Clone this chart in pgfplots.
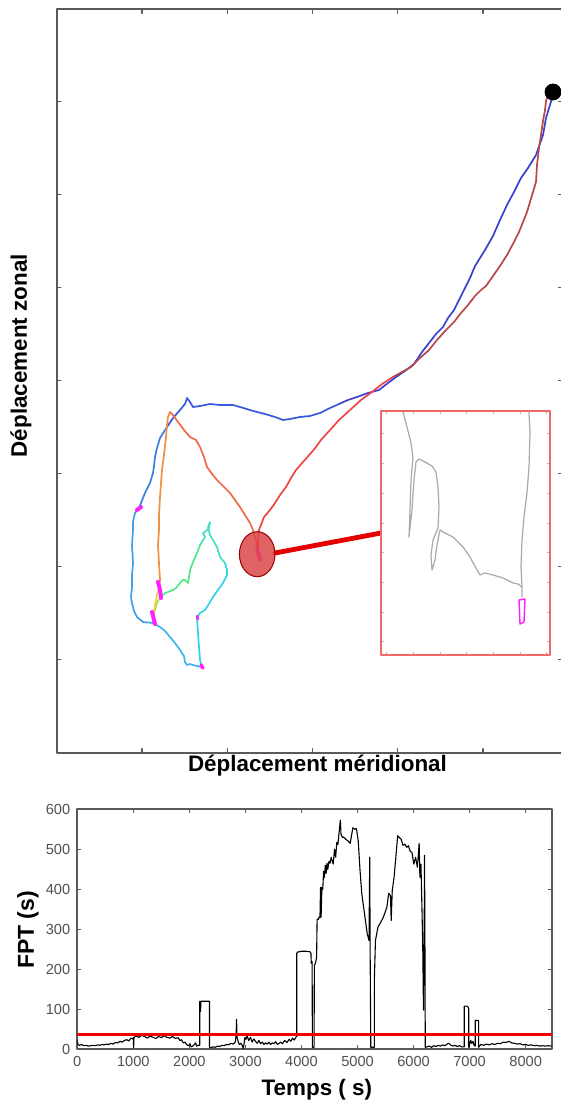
\documentclass[border=0pt]{standalone}
\usepackage{fontspec}
\setmainfont{Liberation Sans}
\usepackage{pgfplots}
\pgfplotsset{compat=1.18}
\definecolor{axgray}{HTML}{5A5A5A}
\definecolor{ticklab}{HTML}{505050}
\definecolor{insetred}{HTML}{F06868}
\definecolor{insetgray}{HTML}{A3ABAB}
\definecolor{magen}{HTML}{FF20FF}
\definecolor{ellfill}{HTML}{DC4646}
\definecolor{c1}{HTML}{3A40D0}
\definecolor{c2}{HTML}{3858E0}
\definecolor{c3}{HTML}{3A80E0}
\definecolor{c4}{HTML}{40A0E8}
\definecolor{c5}{HTML}{40B4F0}
\definecolor{c6}{HTML}{30D4E8}
\definecolor{c7}{HTML}{40E0C0}
\definecolor{c8}{HTML}{50E888}
\definecolor{c9}{HTML}{B0E050}
\definecolor{c10}{HTML}{E8D040}
\definecolor{c11}{HTML}{F09040}
\definecolor{c12}{HTML}{F06A48}
\definecolor{c13}{HTML}{EE4444}
\definecolor{c14}{HTML}{B84848}
\begin{document}
\begin{tikzpicture}[x=1pt,y=1pt]
\useasboundingbox (0,0) rectangle (280.5,554);
% ---------------- top panel ----------------
\begin{axis}[at={(154.8pt,363.5pt)}, anchor=center, scale only axis,
  width=252.9pt, height=371.7pt,
  xmin=56.7, xmax=562.5, ymin=9.3, ymax=752.7, y dir=reverse,
  xtick={142,227.25,312.5,397.75,483},
  ytick={101.7,194.7,287.7,380.7,473.7,566.7,659.7},
  xticklabels={}, yticklabels={},
  tick align=inside, major tick length=2pt,
  tick style={color=axgray, line width=0.7pt},
  axis line style={color=axgray, line width=1pt},
  xlabel={Déplacement méridional}, ylabel={Déplacement zonal},
  every axis x label/.style={at={(axis description cs:0.5156,-0.018)}, anchor=center, font=\fontsize{11.2}{13}\selectfont\bfseries},
  every axis y label/.style={at={(axis description cs:-0.0706,0.534)}, rotate=90, anchor=center, font=\fontsize{11.2}{13}\selectfont\bfseries},
  line join=round, line cap=round]
\addplot[c1, line width=0.85pt] coordinates {(553,95) (550,105) (546,118) (543,135) (536,155) (528,168) (521,178) (514,192) (507,205) (500,220) (493,236) (485,250) (475,266) (470,278) (464,290) (459,300) (454,310) (448,318) (443,327) (436,334) (429,343) (422,352) (414,364) (405,371) (396,377) (388,383) (379,390) (368,393) (357,397) (348,400) (339,404)};
\addplot[c2, line width=0.85pt] coordinates {(339,404) (330,408) (320,413) (310,416) (300,417) (290,419) (283,420) (275,417) (265,414) (257,412) (250,410) (240,407) (233,405) (220,405) (210,404) (200,406) (193,407) (190,402) (187,398) (185,404) (180,410) (173,418) (167,427)};
\addplot[c3, line width=0.85pt] coordinates {(167,427) (160,438) (157,448) (155,457) (154,466) (153,473) (150,483) (145,493) (139,508)};
\addplot[c4, line width=0.85pt] coordinates {(139,508) (135,513) (133,522) (133,530) (132,545) (133,563) (132,575) (132,587) (131,597) (132,603) (134,611) (137,617) (143,622) (153,623)};
\addplot[c5, line width=0.85pt] coordinates {(153,623) (160,627) (165,631) (170,637) (175,643) (180,650) (184,656) (185,662) (187,665) (190,664) (193,665) (197,666) (202,667)};
\addplot[c6, line width=0.85pt] coordinates {(202,667) (200,660) (199,647) (198,633) (197,618) (200,613) (205,610) (207,607) (213,597) (218,590) (223,583) (227,575) (227,570) (225,563)};
\addplot[c7, line width=0.85pt] coordinates {(225,563) (220,557) (217,547) (213,540) (210,535) (208,527) (210,522) (209,528) (206,531) (203,533) (205,537) (200,545)};
\addplot[c8, line width=0.85pt] coordinates {(200,545) (197,553) (193,562) (190,570) (189,577) (188,583) (185,580) (183,580) (180,583) (176,588) (173,590) (168,592) (165,593) (161,596)};
\addplot[c9, line width=0.85pt] coordinates {(161,596) (157,603) (155,610) (153,617)};
\addplot[c10, line width=0.85pt] coordinates {(153,617) (155,605) (157,595) (159,588)};
\addplot[c11, line width=0.85pt] coordinates {(159,588) (160,580) (159,563) (158,545) (159,530) (159,515) (160,497) (161,483) (162,470) (164,455) (166,437) (167,425) (168,417) (170,412)};
\addplot[c12, line width=0.85pt] coordinates {(170,412) (173,415) (178,422) (184,430) (190,437) (196,440) (200,447) (204,457) (207,467) (212,474) (217,480) (224,487) (230,493) (235,500) (240,507) (245,515) (250,523) (253,530) (255,537) (257,545) (258,550) (260,557)};
\addplot[c13, line width=0.85pt] coordinates {(258,552) (258,540) (259,530) (264,517) (270,510) (275,503) (280,495) (286,487) (291,478) (296,470) (303,462) (311,453) (316,447) (321,440) (330,430) (339,420) (350,410) (361,400) (372,392) (382,384) (393,377)};
\addplot[c14, line width=0.85pt] coordinates {(393,377) (402,372) (411,367) (420,358) (429,350) (437,340) (446,330) (454,322) (461,313) (468,305) (475,296) (481,290) (486,286) (493,276) (500,266) (507,255) (514,242) (519,232) (523,222) (527,212) (530,202) (533,192) (536,182) (537,165) (539,148) (541,135) (543,121) (545,110) (546,101) (548,95)};
% ARS markers
\addplot[magen, line width=2pt] coordinates {(137,510) (141,507)};
\addplot[magen, line width=2pt] coordinates {(158,582) (160,590) (161,598)};
\addplot[magen, line width=2pt] coordinates {(152,612) (154,620) (155,624)};
\addplot[magen, line width=1.8pt] coordinates {(201,665) (203,668)};
\addplot[magen, line width=1.2pt] coordinates {(197,616) (198,619)};
\addplot[magen, line width=1.8pt] coordinates {(257,548) (259,556) (260,560)};
% zoom ellipse and connector
\addplot[only marks, mark=*, mark size=8.9pt, mark options={yscale=1.264, fill=ellfill, draw=red!60!black, fill opacity=0.85, line width=0.5pt}] coordinates {(257.2,554.2)};
\addplot[red!90!black, line width=2.4pt] coordinates {(275,553) (381,533)};
% start point
\addplot[only marks, mark=*, mark size=4pt, black] coordinates {(553,92)};
\end{axis}
% ---------------- inset ----------------
\begin{axis}[at={(232.75pt,287.5pt)}, anchor=center, scale only axis,
  width=84.5pt, height=122pt,
  xmin=381, xmax=550, ymin=411, ymax=655, y dir=reverse,
  xtick={386.7,413.3,440,466.7,493.3,520,546},
  ytick={433,463,493,523,552,582,612,641},
  xticklabels={}, yticklabels={},
  tick align=inside, major tick length=1.5pt,
  tick style={color=gray!55, line width=0.4pt},
  axis line style={draw=insetred, line width=1.3pt},
  axis background/.style={fill=white},
  line join=round, line cap=round]
\addplot[insetgray, line width=0.6pt] coordinates {(403,412) (407,427) (411,443) (413,458) (411,480) (410,510) (409,537) (412,510) (414,480) (416,462) (419,459) (425,462) (432,466) (436,472) (438,487) (439,507) (438,528) (433,540) (431,555) (432,570) (435,560) (437,545) (440,530) (443,532) (453,537) (463,547) (470,557) (477,570) (480,575) (485,573) (493,575) (503,578) (513,583) (518,584) (522,587) (522,597)};
\addplot[insetgray, line width=0.6pt] coordinates {(529,412) (530,433) (529,467) (527,493) (524,517) (522,540) (521,567) (522,587)};
\addplot[magen, line width=0.7pt] coordinates {(519,600) (525,599) (524,622) (520,624) (519,600)};
\end{axis}
% ---------------- bottom panel ----------------
\begin{axis}[at={(157.25pt,89.35pt)}, anchor=center, scale only axis,
  width=237.2pt, height=120pt,
  xmin=0, xmax=8465, ymin=0, ymax=600,
  xtick={0,1000,...,8000}, ytick={0,100,...,600},
  tick align=inside, major tick length=2pt,
  tick style={color=axgray, line width=0.6pt},
  axis line style={color=axgray, line width=0.9pt},
  /pgf/number format/assume math mode=true,
  /pgf/number format/set thousands separator={},
  tick label style={font=\fontsize{7.3}{8}\selectfont, color=ticklab},
  xlabel={Temps ( s)}, ylabel={FPT (s)},
  every axis x label/.style={at={(axis description cs:0.505,-0.17)}, anchor=center, font=\fontsize{11.2}{13}\selectfont\bfseries},
  every axis y label/.style={at={(axis description cs:-0.104,0.497)}, rotate=90, anchor=center, font=\fontsize{11.5}{13}\selectfont\bfseries},
  line join=round]
\addplot[black, line width=0.55pt] coordinates {
(0,24) (10,12) (40,10) (80,12) (120,9) (160,10) (200,8) (240,9) (280,10) (320,9) (360,11) (400,10) (440,12) (480,11) (520,13) (560,12) (600,15) (640,13) (680,17) (720,16) (760,20) (800,18) (840,22) (880,24) (920,21) (960,28) (990,26) (1000,30) (1005,4) (1012,30) (1050,33) (1100,30) (1150,35) (1200,32) (1250,28) (1300,33) (1350,30) (1400,27) (1450,32) (1500,29) (1550,34) (1600,30) (1650,28) (1700,32) (1750,27) (1800,29) (1830,22) (1860,24) (1890,16) (1920,18) (1950,12) (1980,9) (2010,14) (2030,6) (2060,8) (2090,12) (2110,16) (2130,8) (2160,10) (2185,10)
(2185,120) (2200,95) (2205,120) (2350,120) (2358,120) (2358,5)
(2380,4) (2420,6) (2460,5) (2500,8) (2540,7) (2580,10) (2620,9) (2660,12) (2700,11) (2740,15) (2780,13) (2820,18) (2835,40) (2842,75) (2850,30) (2870,20) (2890,12) (2920,15) (2950,8) (2960,2) (2970,8) (2990,30) (3010,25) (3030,33) (3060,22) (3090,30) (3120,18) (3150,26) (3180,20) (3210,15) (3240,22) (3270,14) (3300,18) (3330,12) (3360,16) (3390,13) (3420,18) (3450,12) (3480,16) (3510,14) (3540,19) (3570,12) (3600,15) (3630,18) (3660,14) (3700,22) (3740,17) (3780,25) (3810,20) (3840,28) (3870,23) (3900,30) (3915,32)
(3915,240) (3930,243) (4000,245) (4080,245) (4150,244) (4170,240) (4172,215) (4190,220) (4195,5) (4225,5) (4230,210) (4250,215) (4270,230) (4279,325) (4300,325) (4311,330) (4330,330) (4340,405) (4350,330) (4365,405) (4380,400) (4395,445) (4410,430) (4425,460) (4440,440) (4455,465) (4470,450) (4490,470) (4510,465) (4530,480) (4566,463) (4590,500) (4610,480) (4630,517) (4650,512) (4670,540) (4694,573) (4705,538) (4730,530) (4758,530) (4790,525) (4830,521) (4870,515) (4900,540) (4917,554) (4950,550) (4980,552) (5013,521)
(5045,447) (5077,388) (5109,355) (5141,322) (5173,289) (5205,272) (5218,480) (5225,250) (5237,5) (5300,5) (5302,180) (5320,272) (5364,305) (5396,313) (5460,330) (5524,355) (5556,390) (5588,384) (5601,322) (5620,397) (5652,430) (5684,480) (5716,534) (5740,530) (5780,525) (5810,510) (5844,513) (5880,505) (5908,509) (5940,495) (5972,492) (6004,463) (6036,480) (6068,455) (6100,515) (6113,430) (6132,463) (6152,339) (6164,256) (6177,98) (6190,300) (6196,485) (6205,200) (6209,5)
(6240,6) (6280,8) (6320,5) (6360,9) (6400,7) (6440,10) (6480,8) (6520,11) (6560,9) (6600,13) (6630,15) (6660,11) (6700,8) (6740,10) (6780,7) (6820,9) (6860,6) (6905,6)
(6905,108) (6950,108) (6975,105) (6985,100) (6985,5) (7000,12) (7020,22) (7040,15) (7060,20) (7080,10) (7100,8) (7100,72) (7160,72) (7160,5) (7200,12) (7250,10) (7300,13) (7350,11) (7400,14) (7450,12) (7500,15) (7550,14) (7600,18) (7650,17) (7700,20) (7750,16) (7800,15) (7850,13) (7900,14) (7950,11) (8000,12) (8050,10) (8100,11) (8150,9) (8200,10) (8250,8) (8300,9) (8350,8) (8400,9) (8465,8)};
\addplot[red!95!black, line width=1.5pt] coordinates {(0,38) (8465,38)};
\end{axis}
\end{tikzpicture}
\end{document}
